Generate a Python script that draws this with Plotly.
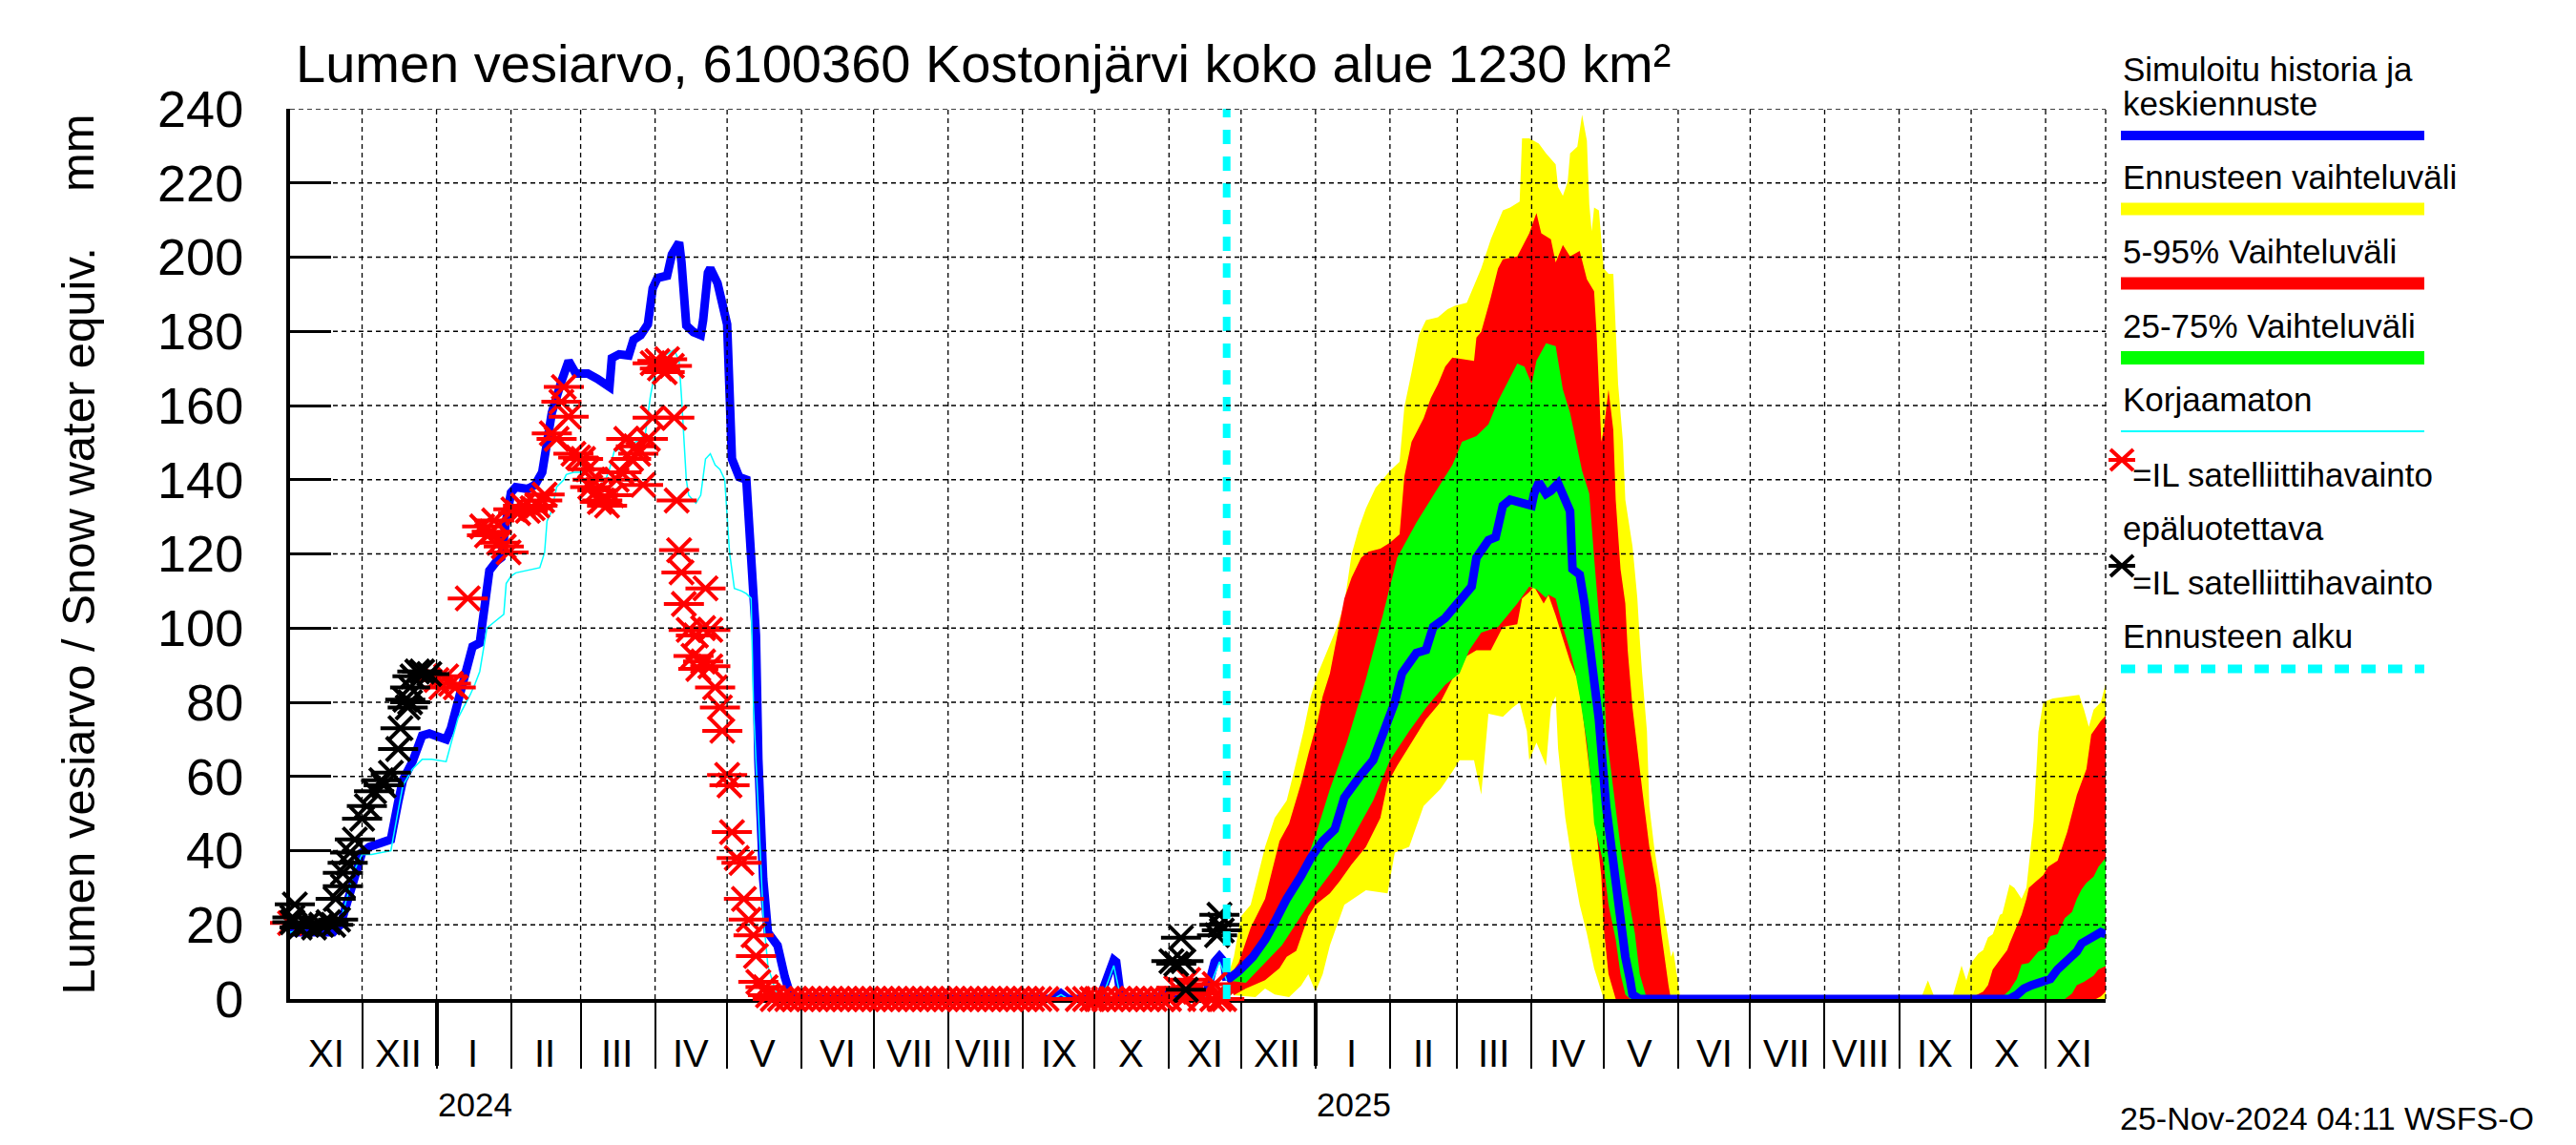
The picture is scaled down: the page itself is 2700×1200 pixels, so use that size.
import plotly.graph_objects as go

W, H = 2700, 1200
OFF = 8  # default page body margin of the html page
L, R, T, B = 304, 2207, 114, 1047


def px(x):
    return (x - L) / (R - L)


def py(y):
    return (B - y) / (B - T)


FONT = "Liberation Sans, Arial, sans-serif"
X_RANGE = ["2023-11-01", "2025-11-26"]
FORECAST_START = "2024-11-25"

# ---------------- simulated history (blue) ----------------
sim_dates = ["2023-11-01", "2023-11-11", "2023-11-19", "2023-11-22", "2023-11-25", "2023-11-28",
             "2023-12-01", "2023-12-04", "2023-12-10", "2023-12-13", "2023-12-16", "2023-12-18",
             "2023-12-22", "2023-12-26", "2023-12-29", "2024-01-05", "2024-01-07", "2024-01-10",
             "2024-01-13", "2024-01-16", "2024-01-19", "2024-01-21", "2024-01-23", "2024-01-26",
             "2024-01-28", "2024-01-30", "2024-02-01", "2024-02-03", "2024-02-08", "2024-02-11",
             "2024-02-14", "2024-02-16", "2024-02-18", "2024-02-22", "2024-02-25", "2024-02-28",
             "2024-03-04", "2024-03-08", "2024-03-13", "2024-03-14", "2024-03-17", "2024-03-21",
             "2024-03-23", "2024-03-26", "2024-03-29", "2024-03-31", "2024-04-02", "2024-04-06",
             "2024-04-08", "2024-04-11", "2024-04-12", "2024-04-14", "2024-04-17", "2024-04-20",
             "2024-04-21", "2024-04-23", "2024-04-24", "2024-04-27", "2024-05-01", "2024-05-03",
             "2024-05-06", "2024-05-09", "2024-05-11", "2024-05-13", "2024-05-14", "2024-05-16",
             "2024-05-18", "2024-05-22", "2024-05-25", "2024-05-27", "2024-05-30", "2024-09-14",
             "2024-09-17", "2024-09-20", "2024-10-03", "2024-10-06", "2024-10-09", "2024-10-10",
             "2024-10-12", "2024-10-28", "2024-10-30", "2024-11-01", "2024-11-16", "2024-11-18",
             "2024-11-20", "2024-11-22", "2024-11-24", "2024-11-25"]
sim_vals = [18, 18, 18, 20, 27, 34,
            39.5, 41, 42, 43, 53, 59,
            64, 71, 71.6, 70, 73, 81,
            88, 95, 96, 106.5, 115.5, 118,
            119, 129, 136.5, 138, 137.5, 138.6,
            142, 150, 158, 166.5, 172, 168.6,
            168.6, 167.2, 165, 172.8, 173.8, 173.5,
            177.7, 179, 181.9, 191.6, 194.4, 195,
            200.7, 204, 198.6, 181.6, 179.8, 179,
            183, 195.8, 197, 193, 181.9, 145.6,
            140.7, 140, 120.4, 98, 64.6, 32.5,
            17.9, 14.4, 6, 1.8, 0, 0,
            1.5, 0, 0, 5, 10.5, 10,
            0, 0, 2.5, 0, 0, 5,
            10, 11.5, 10, 5]

# ---------------- uncorrected (cyan thin) ----------------
raw_dates = ["2023-11-01", "2023-11-22", "2023-11-25", "2023-11-28", "2023-12-01", "2023-12-05",
             "2023-12-09", "2023-12-13", "2023-12-16", "2023-12-18", "2023-12-22", "2023-12-26",
             "2023-12-30", "2024-01-05", "2024-01-07", "2024-01-10", "2024-01-15", "2024-01-17",
             "2024-01-19", "2024-01-22", "2024-01-25", "2024-01-29", "2024-01-30", "2024-02-01",
             "2024-02-03", "2024-02-08", "2024-02-13", "2024-02-15", "2024-02-16", "2024-02-18",
             "2024-02-20", "2024-02-23", "2024-02-24", "2024-02-27", "2024-03-02", "2024-03-07",
             "2024-03-11", "2024-03-13", "2024-03-15", "2024-03-18", "2024-03-20", "2024-03-25",
             "2024-03-28", "2024-03-30", "2024-04-01", "2024-04-05", "2024-04-09", "2024-04-11",
             "2024-04-12", "2024-04-14", "2024-04-15", "2024-04-18", "2024-04-20", "2024-04-22",
             "2024-04-24", "2024-04-26", "2024-04-28", "2024-04-30", "2024-05-02", "2024-05-04",
             "2024-05-07", "2024-05-09", "2024-05-11", "2024-05-12", "2024-05-14", "2024-05-16",
             "2024-05-18", "2024-05-21", "2024-05-23", "2024-09-14", "2024-09-17", "2024-09-20",
             "2024-10-04", "2024-10-09", "2024-10-12", "2024-11-16", "2024-11-22", "2024-11-25"]
raw_vals = [18, 21, 28, 35, 39, 39,
            39.5, 40, 50.7, 57.6, 62, 64.6,
            64.6, 64, 68.8, 75.8, 82, 84.9,
            88.3, 100, 101.6, 103.7, 112, 114,
            114.9, 115.6, 116.3, 120.4, 128.8, 131.6,
            138, 140, 141.4, 142, 142, 140,
            139.3, 142.8, 147.7, 148.4, 149, 150.5,
            152.5, 162.3, 169.3, 173.5, 175, 172,
            162.3, 140, 135.8, 133.7, 135.8, 145.6,
            147, 144, 142.8, 140, 120.4, 110.7,
            110, 109.3, 108, 78.6, 50.7, 22.7,
            8.8, 2.5, 0.4, 0, 1.2, 0,
            0, 9, 0, 0, 10, 5]

# ---------------- satellite observations (red) ----------------
red_obs_dates = ["2023-11-01", "2024-01-01", "2024-01-03", "2024-01-05", "2024-01-07", "2024-01-09",
                 "2024-01-14", "2024-01-20", "2024-01-22", "2024-01-24", "2024-01-25", "2024-01-27",
                 "2024-01-29", "2024-01-31", "2024-02-02", "2024-02-04", "2024-02-06", "2024-02-08",
                 "2024-02-10", "2024-02-12", "2024-02-14", "2024-02-15", "2024-02-18", "2024-02-20",
                 "2024-02-22", "2024-02-23", "2024-02-25", "2024-02-27", "2024-02-29", "2024-03-02",
                 "2024-03-04", "2024-03-05", "2024-03-06", "2024-03-08", "2024-03-09", "2024-03-10",
                 "2024-03-12", "2024-03-14", "2024-03-16", "2024-03-18", "2024-03-20", "2024-03-22",
                 "2024-03-24", "2024-03-25", "2024-03-27", "2024-03-29", "2024-03-31", "2024-03-31",
                 "2024-04-02", "2024-04-03", "2024-04-05", "2024-04-06", "2024-04-08", "2024-04-09",
                 "2024-04-10", "2024-04-11", "2024-04-12", "2024-04-13", "2024-04-15", "2024-04-17",
                 "2024-04-18", "2024-04-19", "2024-04-21", "2024-04-21", "2024-04-22", "2024-04-24",
                 "2024-04-24", "2024-04-26", "2024-04-28", "2024-04-29", "2024-05-01", "2024-05-02",
                 "2024-05-03", "2024-05-05", "2024-05-07", "2024-05-08", "2024-05-10", "2024-05-12",
                 "2024-05-13", "2024-05-14", "2024-05-17", "2024-05-18",
                 "2024-05-20", "2024-05-23", "2024-05-26", "2024-05-29",
                 "2024-06-01", "2024-06-04", "2024-06-07", "2024-06-10", "2024-06-13", "2024-06-16",
                 "2024-06-19", "2024-06-22", "2024-06-25", "2024-06-28",
                 "2024-07-01", "2024-07-04", "2024-07-07", "2024-07-10", "2024-07-13", "2024-07-16",
                 "2024-07-19", "2024-07-22", "2024-07-25", "2024-07-28", "2024-07-31",
                 "2024-08-03", "2024-08-06", "2024-08-09", "2024-08-12", "2024-08-15", "2024-08-18",
                 "2024-08-21", "2024-08-24", "2024-08-27", "2024-08-30",
                 "2024-09-02", "2024-09-05", "2024-09-08", "2024-09-11", "2024-09-24", "2024-09-27",
                 "2024-09-30", "2024-10-02", "2024-10-05", "2024-10-08", "2024-10-11", "2024-10-14",
                 "2024-10-17", "2024-10-20", "2024-10-23", "2024-10-26", "2024-10-29",
                 "2024-11-01", "2024-11-04", "2024-11-07", "2024-11-09", "2024-11-12", "2024-11-14",
                 "2024-11-16", "2024-11-19", "2024-11-20", "2024-11-22", "2024-11-24"]
red_obs_vals = [20.5, 86, 84, 87, 85, 84,
                108, 127.4, 125, 126, 129, 123,
                122, 120.4, 132, 131, 133, 131.6,
                132.3, 133, 134.4, 136, 152.5, 151,
                161, 165, 157, 147, 146, 145.6,
                142.8, 138, 140, 137.2, 134, 134.4,
                133, 135.8, 140, 142, 151, 145.6,
                149, 147, 138.6, 151, 156.7, 171.4,
                172, 170, 169, 172.5, 170.7, 156.7,
                134.4, 121, 115, 106.5, 99.5, 92.5,
                98, 89, 100, 91, 110.7, 99.5,
                89.7, 84, 78.6, 72.3, 60.4, 57.6,
                45, 38, 36.7, 27, 21.4, 17.2,
                11.6, 4.6, 3.2, 1,
                0, 0, 0, 0,
                0, 0, 0, 0, 0, 0,
                0, 0, 0, 0,
                0, 0, 0, 0, 0, 0,
                0, 0, 0, 0, 0,
                0, 0, 0, 0, 0, 0,
                0, 0, 0, 0,
                0, 0, 0, 0, 0, 0,
                0, 0, 0, 0, 0, 0,
                0, 0, 0, 0, 0,
                0, 3, 0, 5.2, 2, 0,
                1.5, 0, 4, 0, 0]

# ---------------- unreliable satellite observations (black) ----------------
blk_obs_dates = ["2023-11-03", "2023-11-02", "2023-11-02", "2023-11-05", "2023-11-08", "2023-11-11",
                 "2023-11-14", "2023-11-17", "2023-11-19", "2023-11-21", "2023-11-20", "2023-11-23",
                 "2023-11-23", "2023-11-25", "2023-11-26", "2023-11-28", "2023-12-01", "2023-12-03",
                 "2023-12-06", "2023-12-09", "2023-12-10", "2023-12-13", "2023-12-16", "2023-12-17",
                 "2023-12-20", "2023-12-19", "2023-12-21", "2023-12-21", "2023-12-22", "2023-12-24",
                 "2023-12-26", "2023-12-29",
                 "2024-11-02", "2024-11-04", "2024-11-06", "2024-11-07", "2024-11-08", "2024-11-21",
                 "2024-11-22", "2024-11-22", "2024-11-23"]
blk_obs_vals = [25.5, 22, 20.7, 19.3, 20, 19.3,
                20, 20.7, 20, 21.4, 27, 30.4,
                34, 36.7, 39.5, 43, 48.6, 52,
                56, 59, 57.6, 61, 67.4, 73,
                78.6, 80.7, 84, 80, 87, 88.3,
                88.3, 87.6,
                10.2, 9.5, 16.5, 10.2, 2.5, 17.2,
                20, 22.7, 18.5]

# ---------------- forecast distribution ----------------
fc_max_dates = ["2024-11-25", "2024-11-28", "2024-12-01", "2024-12-05", "2024-12-08", "2024-12-11",
                "2024-12-15", "2024-12-20", "2024-12-23", "2024-12-27", "2024-12-30", "2025-01-02",
                "2025-01-05", "2025-01-10", "2025-01-13", "2025-01-16", "2025-01-19", "2025-01-22",
                "2025-01-26", "2025-02-01", "2025-02-05", "2025-02-07", "2025-02-10", "2025-02-13",
                "2025-02-16", "2025-02-21", "2025-02-25", "2025-02-28", "2025-03-05", "2025-03-08",
                "2025-03-11", "2025-03-15", "2025-03-18", "2025-03-20", "2025-03-23", "2025-03-27",
                "2025-03-28", "2025-03-31", "2025-04-04", "2025-04-07", "2025-04-11", "2025-04-12",
                "2025-04-14", "2025-04-16", "2025-04-17", "2025-04-20", "2025-04-22", "2025-04-24",
                "2025-04-25", "2025-04-26", "2025-04-27", "2025-04-29", "2025-05-01", "2025-05-03",
                "2025-05-05", "2025-05-06", "2025-05-07", "2025-05-09", "2025-05-10", "2025-05-13",
                "2025-05-14", "2025-05-15", "2025-05-16", "2025-05-17", "2025-05-19", "2025-05-20",
                "2025-05-22", "2025-05-25", "2025-05-27", "2025-05-29", "2025-05-30", "2025-06-01",
                "2025-06-02", "2025-09-10", "2025-09-13", "2025-09-16", "2025-09-23", "2025-09-27",
                "2025-09-29", "2025-10-01", "2025-10-04", "2025-10-06", "2025-10-08", "2025-10-10",
                "2025-10-13", "2025-10-14", "2025-10-17", "2025-10-19", "2025-10-22", "2025-10-24",
                "2025-10-27", "2025-10-29", "2025-10-31", "2025-11-04", "2025-11-11", "2025-11-15",
                "2025-11-17", "2025-11-19", "2025-11-21", "2025-11-24", "2025-11-26"]
fc_max_vals = [5, 11.4, 22.3, 25.4, 33.2, 41,
               48.8, 53.5, 61.3, 72.2, 81.6, 87.8,
               92.5, 100.3, 106.6, 119.8, 126.8, 132.3,
               137.8, 142.4, 144.8, 159.6, 169, 179,
               183, 183.8, 186, 186.9, 187.7, 192.4,
               197, 204.8, 209.5, 212.6, 213.4, 215,
               232, 232, 230.6, 228, 225, 218.9,
               216.5, 220.4, 228, 229.8, 238.4, 231.4,
               214.2, 207, 213.4, 212.6, 197, 195.5,
               195.5, 181.4, 165.8, 150.2, 134.6, 122,
               114.4, 108.1, 97.2, 87.8, 72.2, 52,
               41, 28.5, 19.2, 11.4, 13, 3.6,
               0, 0, 5, 0, 0, 9,
               5, 9.7, 12.3, 13.2, 16.6, 17.5,
               22.7, 23, 30.9, 30, 27, 30,
               48, 72, 80, 81, 81.7, 82,
               78, 73.4, 78, 80, 85]

fc_min_dates = ["2024-11-25", "2024-11-28", "2024-12-07", "2024-12-11", "2024-12-15", "2024-12-21",
                "2024-12-26", "2024-12-29", "2025-01-01", "2025-01-04", "2025-01-07", "2025-01-13",
                "2025-01-22", "2025-01-31", "2025-02-03", "2025-02-09", "2025-02-15", "2025-02-22",
                "2025-02-27", "2025-03-02", "2025-03-08", "2025-03-11", "2025-03-14", "2025-03-20",
                "2025-03-24", "2025-03-27", "2025-03-30", "2025-03-31", "2025-04-03", "2025-04-07",
                "2025-04-09", "2025-04-11", "2025-04-12", "2025-04-15", "2025-04-18", "2025-04-21",
                "2025-04-24", "2025-04-27", "2025-04-30", "2025-05-01", "2025-11-26"]
fc_min_vals = [5, 1, 0.5, 2.8, 1.2, 0.5,
               3.6, 6.7, 2, 6.7, 14.5, 25.4,
               29.3, 28.5, 39.5, 41, 52, 56.6,
               61.3, 64.4, 64.4, 55.1, 76.9, 76.1,
               78.5, 80, 72.2, 64.4, 69.1, 62.9,
               78.5, 81.6, 67.5, 48.8, 36.3, 25.4,
               17.6, 8.3, 2, 0, 0]

fc_p95_dates = ["2024-11-25", "2024-11-30", "2024-12-05", "2024-12-11", "2024-12-17", "2024-12-21",
                "2024-12-26", "2024-12-29", "2025-01-02", "2025-01-04", "2025-01-07", "2025-01-10",
                "2025-01-13", "2025-01-16", "2025-01-20", "2025-01-23", "2025-01-28", "2025-02-01",
                "2025-02-05", "2025-02-07", "2025-02-10", "2025-02-15", "2025-02-18", "2025-02-21",
                "2025-02-24", "2025-02-27", "2025-03-08", "2025-03-09", "2025-03-11", "2025-03-15",
                "2025-03-18", "2025-03-20", "2025-03-26", "2025-03-31", "2025-04-03", "2025-04-05",
                "2025-04-09", "2025-04-11", "2025-04-14", "2025-04-17", "2025-04-21", "2025-04-24",
                "2025-04-27", "2025-04-28", "2025-04-30", "2025-05-01", "2025-05-03", "2025-05-05",
                "2025-05-06", "2025-05-08", "2025-05-10", "2025-05-11", "2025-05-13", "2025-05-17",
                "2025-05-20", "2025-05-23", "2025-05-25", "2025-05-28", "2025-05-29", "2025-09-30",
                "2025-10-06", "2025-10-08", "2025-10-10", "2025-10-13", "2025-10-16", "2025-10-17",
                "2025-10-20", "2025-10-22", "2025-10-24", "2025-10-25", "2025-10-28", "2025-10-31",
                "2025-11-02", "2025-11-06", "2025-11-10", "2025-11-14", "2025-11-18", "2025-11-20",
                "2025-11-24", "2025-11-26"]
fc_p95_vals = [5, 9.8, 19.2, 27, 42.6, 47.3,
               58.2, 66, 75.4, 81.6, 87.8, 98,
               108, 113.6, 119, 120.6, 121.4, 123,
               125.3, 140.9, 150.2, 156.5, 162, 165.8,
               170.5, 172.9, 172, 178.3, 179.9, 189.2,
               197, 199.4, 200.2, 206.4, 211.9, 206.4,
               204.8, 198.6, 203.3, 200.2, 201.7, 194,
               190.8, 179.9, 150.2, 153.4, 164.3, 153.4,
               134.6, 115.9, 106.6, 94, 78.5, 56.6,
               41, 30.1, 17.6, 3.6, 0, 0,
               2, 3.7, 8, 10.6, 13.2, 15,
               19.7, 22.7, 27, 30, 31.7, 33.4,
               35.6, 37.3, 45, 55, 62, 71.3,
               75, 76.4]

fc_p05_dates = ["2024-11-25", "2024-11-28", "2024-12-03", "2024-12-11", "2024-12-17", "2024-12-20",
                "2024-12-24", "2024-12-29", "2025-01-01", "2025-01-07", "2025-01-11", "2025-01-16",
                "2025-01-22", "2025-01-28", "2025-01-31", "2025-02-04", "2025-02-10", "2025-02-16",
                "2025-02-22", "2025-02-27", "2025-03-05", "2025-03-09", "2025-03-15", "2025-03-20",
                "2025-03-26", "2025-03-28", "2025-03-31", "2025-04-02", "2025-04-06", "2025-04-08",
                "2025-04-11", "2025-04-14", "2025-04-17", "2025-04-20", "2025-04-22", "2025-04-24",
                "2025-04-26", "2025-04-28", "2025-04-30", "2025-05-01", "2025-05-03", "2025-05-06",
                "2025-11-22", "2025-11-24", "2025-11-26"]
fc_p05_vals = [5, 1, 2.8, 5.1, 8.3, 11.4,
               13, 22.3, 25.4, 28.5, 31.7, 36.3,
               41, 48.8, 58.2, 62.9, 69.1, 75.4,
               80, 86.3, 92.5, 94, 94, 100.3,
               101, 108, 109.7, 111.2, 106.6, 108.9,
               103.4, 97.2, 91, 86.3, 78.5, 67.5,
               56.6, 44.1, 33.2, 19.2, 6.7, 0,
               0, 0.7, 2]

fc_p75_dates = ["2024-11-25", "2024-12-03", "2024-12-11", "2024-12-18", "2024-12-26", "2025-01-01",
                "2025-01-07", "2025-01-14", "2025-01-22", "2025-01-29", "2025-02-04", "2025-02-12",
                "2025-02-21", "2025-02-27", "2025-03-03", "2025-03-09", "2025-03-14", "2025-03-18",
                "2025-03-21", "2025-03-26", "2025-03-29", "2025-04-01", "2025-04-03", "2025-04-07",
                "2025-04-11", "2025-04-14", "2025-04-17", "2025-04-20", "2025-04-22", "2025-04-25",
                "2025-04-26", "2025-04-27", "2025-04-29", "2025-05-01", "2025-05-02", "2025-05-05",
                "2025-05-08", "2025-05-11", "2025-05-14", "2025-05-16", "2025-05-18", "2025-05-19",
                "2025-10-13", "2025-10-17", "2025-10-20", "2025-10-22", "2025-10-25", "2025-10-29",
                "2025-11-01", "2025-11-03", "2025-11-06", "2025-11-09", "2025-11-12", "2025-11-14",
                "2025-11-16", "2025-11-18", "2025-11-21", "2025-11-23", "2025-11-26"]
fc_p75_vals = [5, 8.3, 14.5, 22.3, 33.2, 44.1,
               56.6, 69.1, 86.3, 103.4, 119, 128.4,
               137.8, 144, 150.2, 151.8, 154.9, 161.2,
               165, 171.3, 170.5, 165.8, 172.1, 176.8,
               176, 164.3, 158, 148.7, 142.4, 136.2,
               126.8, 119, 103.4, 87.8, 72.2, 56.6,
               41, 28.5, 17.6, 6.7, 2, 0,
               0, 2.4, 5.4, 9.3, 9.7, 12.8,
               13.6, 17, 17.5, 21.8, 23.5, 27,
               29.6, 31.3, 33, 35.6, 38]

fc_p25_dates = ["2024-11-25", "2024-12-03", "2024-12-11", "2024-12-18", "2024-12-26", "2025-01-02",
                "2025-01-10", "2025-01-17", "2025-01-25", "2025-02-01", "2025-02-09", "2025-02-16",
                "2025-02-24", "2025-03-02", "2025-03-06", "2025-03-11", "2025-03-18", "2025-03-26",
                "2025-03-31", "2025-04-03", "2025-04-07", "2025-04-08", "2025-04-11", "2025-04-14",
                "2025-04-17", "2025-04-19", "2025-04-21", "2025-04-24", "2025-04-26", "2025-04-27",
                "2025-05-01", "2025-05-03", "2025-05-06", "2025-05-08", "2025-05-10", "2025-05-12",
                "2025-11-09", "2025-11-12", "2025-11-14", "2025-11-17", "2025-11-21", "2025-11-23",
                "2025-11-26"]
fc_p25_vals = [5, 4.4, 9.8, 14.5, 22.3, 29.3,
               36.3, 44.1, 53.5, 64.4, 72.2, 78.5,
               84.7, 87.8, 94, 98.8, 100.3, 106.6,
               111.2, 110.5, 108.1, 109, 108, 100.3,
               94, 88.6, 81.6, 69.1, 56.6, 47.3,
               36.3, 25.4, 16, 6.7, 1.2, 0,
               0, 1.5, 3.7, 4.6, 6.3, 8,
               8.9]

fc_med_dates = ["2024-11-25", "2024-11-30", "2024-12-06", "2024-12-11", "2024-12-15", "2024-12-20",
                "2024-12-26", "2024-12-30", "2025-01-04", "2025-01-09", "2025-01-13", "2025-01-17",
                "2025-01-20", "2025-01-25", "2025-01-28", "2025-02-01", "2025-02-03", "2025-02-06",
                "2025-02-09", "2025-02-12", "2025-02-16", "2025-02-19", "2025-02-24", "2025-02-28",
                "2025-03-04", "2025-03-07", "2025-03-09", "2025-03-12", "2025-03-14", "2025-03-17",
                "2025-03-20", "2025-03-23", "2025-03-27", "2025-04-01", "2025-04-02", "2025-04-04",
                "2025-04-07", "2025-04-09", "2025-04-12", "2025-04-14", "2025-04-17", "2025-04-18",
                "2025-04-21", "2025-04-23", "2025-04-26", "2025-04-29", "2025-05-02", "2025-05-05",
                "2025-05-08", "2025-05-10", "2025-05-12", "2025-05-13", "2025-05-16", "2025-10-17",
                "2025-10-20", "2025-10-23", "2025-10-26", "2025-10-31", "2025-11-03", "2025-11-06",
                "2025-11-09", "2025-11-12", "2025-11-14", "2025-11-16", "2025-11-18", "2025-11-21",
                "2025-11-24", "2025-11-26"]
fc_med_vals = [5, 7.5, 11.4, 16, 20.7, 27,
               33.2, 38, 42.6, 45.7, 54.3, 58.2,
               60.5, 64.4, 69.1, 75.4, 80, 87.8,
               90.2, 93.3, 94.1, 100.3, 102.7, 105.8,
               109.7, 111.2, 119, 121.4, 123.7, 124.5,
               133, 134.6, 133.9, 133, 136.2, 139.3,
               136.2, 137, 139, 135.4, 131.5, 115.9,
               114.4, 106.6, 91, 75.4, 52, 36.3,
               22.3, 11.4, 5.1, 1.2, 0, 0,
               1.1, 2.8, 3.7, 4.6, 5.4, 8,
               9.7, 11.5, 12.8, 15, 15.8, 17,
               18, 17.5]

# ---------------- axis labelling ----------------
month_starts = ["2023-12-01", "2024-01-01", "2024-02-01", "2024-03-01", "2024-04-01", "2024-05-01",
                "2024-06-01", "2024-07-01", "2024-08-01", "2024-09-01", "2024-10-01", "2024-11-01",
                "2024-12-01", "2025-01-01", "2025-02-01", "2025-03-01", "2025-04-01", "2025-05-01",
                "2025-06-01", "2025-07-01", "2025-08-01", "2025-09-01", "2025-10-01", "2025-11-01"]
month_mid = ["2023-11-16", "2023-12-16", "2024-01-16", "2024-02-15", "2024-03-16", "2024-04-16",
             "2024-05-16", "2024-06-16", "2024-07-16", "2024-08-16", "2024-09-16", "2024-10-16",
             "2024-11-16", "2024-12-16", "2025-01-16", "2025-02-15", "2025-03-16", "2025-04-16",
             "2025-05-16", "2025-06-16", "2025-07-16", "2025-08-16", "2025-09-16", "2025-10-16",
             "2025-11-13"]
month_labels = ["XI", "XII", "I", "II", "III", "IV", "V", "VI", "VII", "VIII", "IX", "X",
                "XI", "XII", "I", "II", "III", "IV", "V", "VI", "VII", "VIII", "IX", "X", "XI"]
year_starts = ["2024-01-01", "2025-01-01"]
year_mid = ["2024-01-17", "2025-01-17"]
year_labels = ["2024", "2025"]
y_ticks = [0, 20, 40, 60, 80, 100, 120, 140, 160, 180, 200, 220, 240]

TITLE = "Lumen vesiarvo, 6100360 Kostonjärvi koko alue 1230 km²"
Y_TITLE = "Lumen vesiarvo / Snow water equiv."
Y_UNIT = "mm"
STAMP = "25-Nov-2024 04:11 WSFS-O"

BLUE, YELLOW, RED, GREEN, CYAN = "#0000FF", "#FFFF00", "#FF0000", "#00FF00", "#00FFFF"

fig = go.Figure()


def band(upper_d, upper_v, lower_d, lower_v, color):
    fig.add_trace(go.Scatter(x=upper_d + lower_d[::-1], y=upper_v + lower_v[::-1],
                             mode="lines", fill="toself", fillcolor=color,
                             line=dict(width=0, color=color), hoverinfo="skip", showlegend=False))


band(fc_max_dates, fc_max_vals, fc_min_dates, fc_min_vals, YELLOW)
band(fc_p95_dates, fc_p95_vals, fc_p05_dates, fc_p05_vals, RED)
band(fc_p75_dates, fc_p75_vals, fc_p25_dates, fc_p25_vals, GREEN)

fig.add_trace(go.Scatter(x=fc_med_dates, y=fc_med_vals, mode="lines",
                         line=dict(color=BLUE, width=9), showlegend=False))
fig.add_trace(go.Scatter(x=sim_dates, y=sim_vals, mode="lines",
                         line=dict(color=BLUE, width=9), showlegend=False))
fig.add_trace(go.Scatter(x=raw_dates, y=raw_vals, mode="lines",
                         line=dict(color=CYAN, width=1.5), showlegend=False))


def stars(d, v, color):
    for sym, size in (("x-thin-open", 25), ("line-ew-open", 30)):
        fig.add_trace(go.Scatter(x=d, y=v, mode="markers", cliponaxis=False,
                                 marker=dict(symbol=sym, size=size, color=color,
                                             line=dict(color=color, width=4)),
                                 showlegend=False, hoverinfo="skip"))


stars(red_obs_dates, red_obs_vals, RED)
stars(blk_obs_dates, blk_obs_vals, "#000000")

fig.add_trace(go.Scatter(x=[FORECAST_START, FORECAST_START], y=[0, 240], mode="lines",
                         line=dict(color=CYAN, width=8, dash="15px,13px"), showlegend=False))

# invisible trace to carry the year-tick axis
fig.add_trace(go.Scatter(x=year_starts, y=[0, 0], xaxis="x2", mode="markers",
                         marker=dict(opacity=0), showlegend=False, hoverinfo="skip"))

shapes = []
GRID = dict(color="black", width=1.3, dash="5px,4px")
for m in month_starts:
    shapes.append(dict(type="line", xref="x", yref="paper", x0=m, x1=m, y0=0, y1=1,
                       line=GRID, layer="above"))
for yv in y_ticks[1:]:
    shapes.append(dict(type="line", xref="paper", yref="y", x0=0, x1=1, y0=yv, y1=yv,
                       line=GRID, layer="above"))
shapes.append(dict(type="line", xref="paper", yref="paper", x0=1, x1=1, y0=0, y1=1,
                   line=GRID, layer="above"))

# legend swatches
LX0, LX1 = px(2223), px(2541)


def swatch(yc, color, width, dash="solid"):
    shapes.append(dict(type="line", xref="paper", yref="paper", x0=LX0, x1=LX1,
                       y0=py(yc), y1=py(yc), line=dict(color=color, width=width, dash=dash)))


swatch(142, BLUE, 10)
swatch(219, YELLOW, 13)
swatch(297, RED, 13)
swatch(375, GREEN, 14)
swatch(452, CYAN, 2)
swatch(701, CYAN, 9, "15px,13px")


def star_glyph(cx, cy, color):
    for dx, dy in ((14, 0), (12, 11), (12, -11)):
        shapes.append(dict(type="line", xref="paper", yref="paper",
                           x0=px(cx - dx), x1=px(cx + dx), y0=py(cy - dy), y1=py(cy + dy),
                           line=dict(color=color, width=4)))


star_glyph(2224, 482, RED)
star_glyph(2224, 593, "#000000")

ann = []
ann.append(dict(text=TITLE, x=px(308), y=py(66), xref="paper", yref="paper",
                xanchor="left", yanchor="middle", showarrow=False,
                font=dict(family=FONT, size=56, color="black")))
ann.append(dict(text=Y_TITLE, x=px(81), y=py(1045), xref="paper", yref="paper", textangle=-90,
                xanchor="center", yanchor="bottom", showarrow=False,
                font=dict(family=FONT, size=49, color="black")))
ann.append(dict(text=Y_UNIT, x=px(81), y=py(117), xref="paper", yref="paper", textangle=-90,
                xanchor="center", yanchor="top", showarrow=False,
                font=dict(family=FONT, size=49, color="black")))
for d, lab in zip(month_mid, month_labels):
    ann.append(dict(text=lab, x=d, y=py(1104), xref="x", yref="paper", showarrow=False,
                    xanchor="center", yanchor="middle", font=dict(family=FONT, size=40, color="black")))
for d, lab in zip(year_mid, year_labels):
    ann.append(dict(text=lab, x=d, y=py(1157), xref="x", yref="paper", showarrow=False,
                    xanchor="center", yanchor="middle", font=dict(family=FONT, size=35, color="black")))
ann.append(dict(text=STAMP, x=px(2221), y=py(1172), xref="paper", yref="paper", showarrow=False,
                xanchor="left", yanchor="middle", borderpad=0,
                font=dict(family=FONT, size=34, color="black")))

legend_texts = [("Simuloitu historia ja", 72, 2223), ("keskiennuste", 108, 2223),
                ("Ennusteen vaihteluväli", 185, 2223), ("5-95% Vaihteluväli", 263, 2223),
                ("25-75% Vaihteluväli", 341, 2223), ("Korjaamaton", 418, 2223),
                ("=IL satelliittihavainto", 497, 2233), ("epäluotettava", 553, 2223),
                ("=IL satelliittihavainto", 610, 2233), ("Ennusteen alku", 667, 2223)]
for txt, yc, xl in legend_texts:
    ann.append(dict(text=txt, x=px(xl), y=py(yc), xref="paper", yref="paper", showarrow=False,
                    xanchor="left", yanchor="middle", font=dict(family=FONT, size=35, color="black")))

FW, FH = W - 2 * OFF, H - 2 * OFF
fig.update_layout(
    width=FW, height=FH,
    margin=dict(l=L - OFF, r=OFF + FW - R, t=T - OFF, b=OFF + FH - B, pad=0),
    paper_bgcolor="white", plot_bgcolor="white",
    showlegend=False,
    xaxis=dict(type="date", range=X_RANGE, tickvals=month_starts, ticks="outside", ticklen=69,
               tickwidth=1.5, tickcolor="black", showticklabels=False, showgrid=False,
               showline=True, linewidth=4, linecolor="black", zeroline=False, layer="below traces"),
    xaxis2=dict(type="date", range=X_RANGE, overlaying="x", anchor="y", side="bottom",
                tickvals=year_starts, ticks="outside", ticklen=69, tickwidth=4, tickcolor="black",
                showticklabels=False, showgrid=False, showline=False, zeroline=False),
    yaxis=dict(range=[0, 240], tickvals=y_ticks, ticks="inside", ticklen=43, tickwidth=3,
               tickcolor="black", showline=True, linewidth=4, linecolor="black", showgrid=False,
               zeroline=False, ticklabelstandoff=34, layer="below traces",
               tickfont=dict(family=FONT, size=54, color="black")),
    shapes=shapes,
    annotations=ann,
)

fig.write_html("out.html")
